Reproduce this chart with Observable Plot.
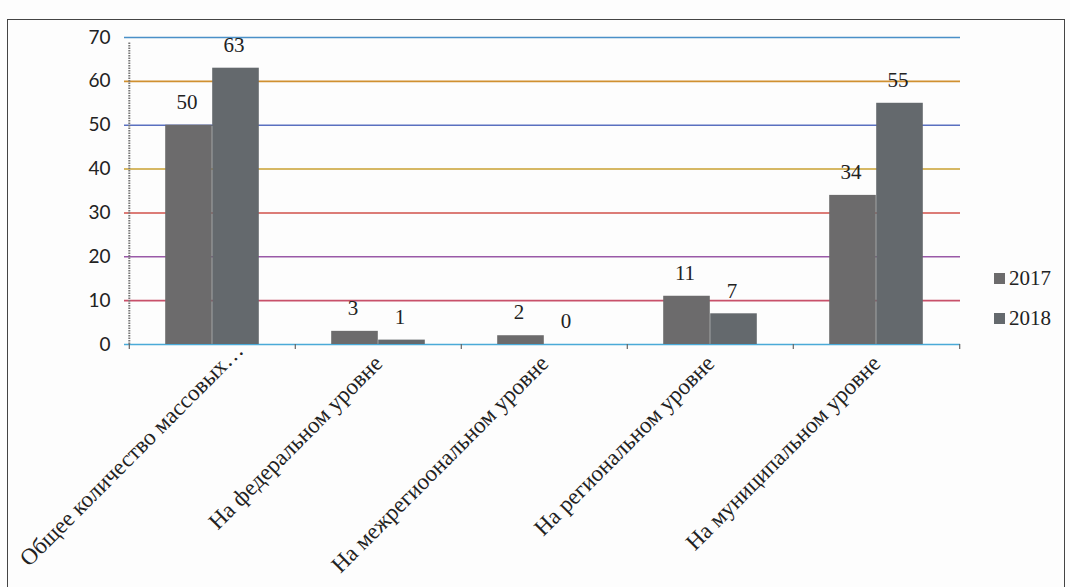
<!DOCTYPE html>
<html>
<head>
<meta charset="utf-8">
<script src="https://cdn.jsdelivr.net/npm/d3@7"></script>
<script src="https://cdn.jsdelivr.net/npm/@observablehq/plot@0.6"></script>
<style>
  html, body { margin: 0; padding: 0; background: #fdfdfd; overflow: hidden; }
  #wrap { position: relative; width: 1070px; height: 587px; }
  #frame { position: absolute; left: 7px; top: 19px; width: 1058px; height: 620px; border: 1.5px solid #444; box-sizing: border-box; pointer-events: none; }
  #legend { position: absolute; left: 994px; top: 258px; font-family: "Liberation Serif", serif; font-size: 21px; color: #222; }
  #legend div { display: flex; align-items: center; height: 40px; }
  #legend span.sw { display: inline-block; width: 11px; height: 11px; margin-right: 4px; }
</style>
</head>
<body>
<div id="wrap">
  <div id="chart"></div>
  <div id="frame"></div>
  <div id="legend"></div>
</div>
<script>
const categories = [
  "Общее количество массовых…",
  "На федеральном уровне",
  "На межрегиоональном уровне",
  "На региональном уровне",
  "На муниципальном уровне"
];
const years = ["2017", "2018"];
const values2017 = [50, 3, 2, 11, 34];
const values2018 = [63, 1, 0, 7, 55];
const yTicks = [0, 10, 20, 30, 40, 50, 60, 70];

const yearColors = {"2017": "#6c6b6c", "2018": "#64696d"};
const gridColors = ["#4aaad8", "#c8506a", "#9a5aa8", "#d0504a", "#c8a030", "#5a70c0", "#d09030", "#4a90c8"];

const d2017 = categories.map((c, i) => ({category: c, year: "2017", value: values2017[i]}));
const d2018 = categories.map((c, i) => ({category: c, year: "2018", value: values2018[i]}));
const grid = yTicks.map((t, i) => ({t, color: gridColors[i]}));

const W = 1070, H = 587, ML = 128, MR = 110, MT = 37, MB = 243;
const band = (W - ML - MR) / categories.length;
const barW = 47;
const outer = band / 2 - barW;

const serif = "Liberation Serif, Times New Roman, serif";
const sans = "Lato, Liberation Sans, sans-serif";

const plot = Plot.plot({
  width: W, height: H,
  marginLeft: ML, marginRight: MR, marginTop: MT, marginBottom: MB,
  x: {type: "band", domain: categories, padding: 0},
  y: {type: "linear", domain: [0, 70]},
  style: {background: "transparent", overflow: "visible"},
  marks: [
    Plot.ruleY(grid, {y: "t", stroke: d => d.color, strokeWidth: 1.6, insetLeft: -4}),
    Plot.ruleX([0], {x: () => categories[0], dx: -band / 2, y1: 0, y2: 70, stroke: "#777", strokeWidth: 2, strokeDasharray: "1.5,1", insetBottom: -5}),
    Plot.ruleX(categories, {x: d => d, dx: -band / 2, y1: 0, y2: 0, stroke: "#666", strokeWidth: 1.2, insetBottom: -5}),
    Plot.ruleX([categories[categories.length - 1]], {x: d => d, dx: band / 2, y1: 0, y2: 0, stroke: "#666", strokeWidth: 1.2, insetBottom: -5}),
    Plot.barY(d2017, {x: "category", y: "value", fill: yearColors["2017"], insetLeft: outer, insetRight: band / 2}),
    Plot.barY(d2018, {x: "category", y: "value", fill: yearColors["2018"], insetLeft: band / 2, insetRight: outer}),
    Plot.text(d2017, {x: "category", y: "value", text: d => String(d.value), dx: -barW / 2 - 2, dy: -23, fontFamily: serif, fontSize: 21, fill: "#222"}),
    Plot.text(d2018, {x: "category", y: "value", text: d => String(d.value), dx: barW / 2 - 2, dy: -23, fontFamily: serif, fontSize: 21, fill: "#222"}),
    Plot.axisY({ticks: yTicks, tickSize: 0, tickPadding: 18, fontFamily: sans, fontSize: 19, fill: "#222"}),
    Plot.axisX({tickSize: 0, tickRotate: -45, tickPadding: 15, fontFamily: serif, fontSize: 23, fill: "#222", label: null})
  ]
});
document.getElementById("chart").appendChild(plot);

// the first (long, truncated) category label sits a little further right in the original
const firstLabel = d3.select(plot).select('g[aria-label="x-axis tick label"] text');
if (!firstLabel.empty()) {
  const t = firstLabel.attr("transform") || "";
  firstLabel.attr("transform", `translate(27,-13) ${t}`);
}

const legend = document.getElementById("legend");
years.forEach(y => {
  const row = document.createElement("div");
  row.innerHTML = `<span class="sw" style="background:${yearColors[y]}"></span>${y}`;
  legend.appendChild(row);
});
</script>
</body>
</html>
